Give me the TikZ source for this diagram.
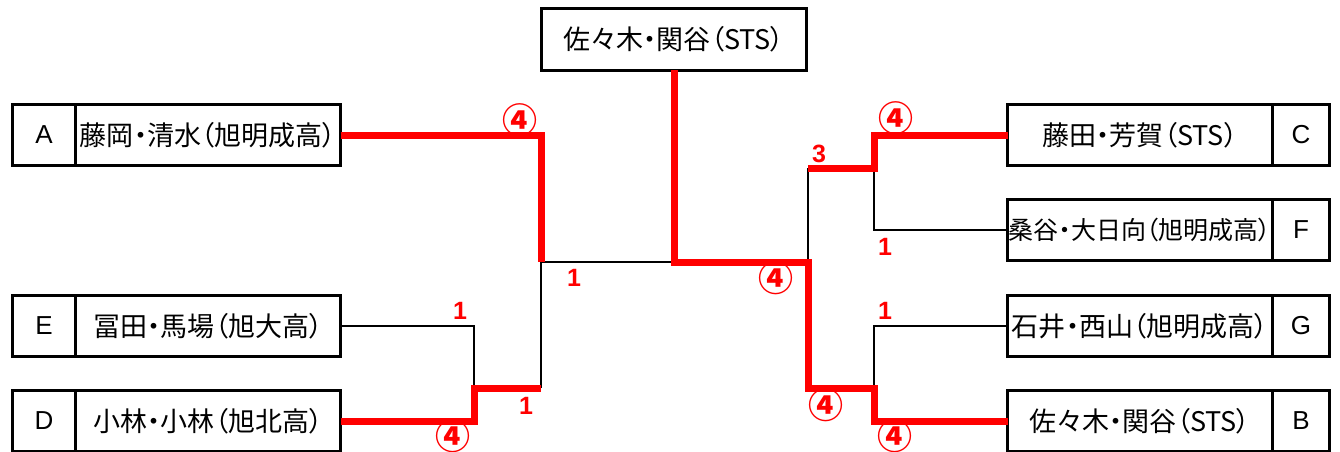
\documentclass[tikz,border=0pt]{standalone}
\usepackage{fontspec}
\newfontfamily\jp[RawFeature=+palt]{Noto Sans CJK JP}
\newfontfamily\lat{Liberation Sans}
\usetikzlibrary{positioning}

\begin{document}
\begin{tikzpicture}[x=1pt,y=-1pt,line join=miter]
	\tikzstyle{pair}=[draw=black,line width=3pt,minimum width=265pt,minimum height=61.5pt,inner sep=0pt,outer sep=0pt,font=\jp\fontsize{27}{27}\selectfont]
	\tikzstyle{seed}=[draw=black,line width=3pt,minimum height=61.5pt,inner sep=0pt,outer sep=0pt,font=\lat\fontsize{26}{26}\selectfont]
	\tikzstyle{loss}=[draw=black,line width=2.2pt]
	\tikzstyle{win}=[draw=red,line width=7pt]
	\tikzstyle{score}=[text=red,inner sep=0pt,font=\lat\bfseries\fontsize{25}{25}\selectfont]
	\tikzstyle{games}=[text=red,inner sep=0pt,font=\jp\bfseries\fontsize{35}{35}\selectfont]

	\useasboundingbox (0,0) rectangle (1340,452);

	\node[pair] (t) at (674,39.5) {佐々木・関谷（STS）};
	\node[pair] (a) at (208,135) {藤岡・清水（旭明成高）};
	\node[pair] (e) at (208,326) {冨田・馬場（旭大高）};
	\node[pair] (d) at (208,421) {小林・小林（旭北高）};
	\node[pair] (c) at (1140,135) {藤田・芳賀（STS）};
	\node[pair,font=\jp\fontsize{25}{25}\selectfont] (f) at (1140,230) {桑谷・大日向（旭明成高）};
	\node[pair] (g) at (1140,326) {石井・西山（旭明成高）};
	\node[pair] (b) at (1140,421) {佐々木・関谷（STS）};
	\node[seed,minimum width=63pt] (sa) [left=0pt of a] {A};
	\node[seed,minimum width=63pt] (se) [left=0pt of e] {E};
	\node[seed,minimum width=63pt] (sd) [left=0pt of d] {D};
	\node[seed,minimum width=57pt] (sc) [right=0pt of c] {C};
	\node[seed,minimum width=57pt] (sf) [right=0pt of f] {F};
	\node[seed,minimum width=57pt] (sg) [right=0pt of g] {G};
	\node[seed,minimum width=57pt] (sb) [right=0pt of b] {B};

	\coordinate (l1) at (541,262);
	\coordinate (l2) at (541,388);
	\coordinate (l3) at (474,388);
	\coordinate (r1) at (808,262);
	\coordinate (r2) at (808,168);
	\coordinate (r3) at (808,388);
	\coordinate (r5) at (874,168);
	\coordinate (r6) at (874,388);

	\path[loss]
	(e.east) -| (l3)
	(l2) -- (l1) -- (t.south |- l1)
	(r1) -- (r2)
	(f.west) -| (r5)
	(g.west) -| (r6)
	;
	\path[win]
	(a.east) -| (l1)
	(d.east) -| (l3) -- (l2)
	(t.south) |- (r1) -- (r3) -- (r6) |- (b.west)
	(r2) -- (r5) |- (c.west)
	;

	\node[games] at (520,120) {④};
	\node[score] at (574,278) {1};
	\node[score] at (460,311) {1};
	\node[score] at (526,406) {1};
	\node[games] at (453,436) {④};
	\node[games] at (776,278) {④};
	\node[score] at (819,154) {3};
	\node[games] at (896,118) {④};
	\node[score] at (885,247) {1};
	\node[score] at (885,311) {1};
	\node[games] at (826,405) {④};
	\node[games] at (895,436) {④};
\end{tikzpicture}
\end{document}
